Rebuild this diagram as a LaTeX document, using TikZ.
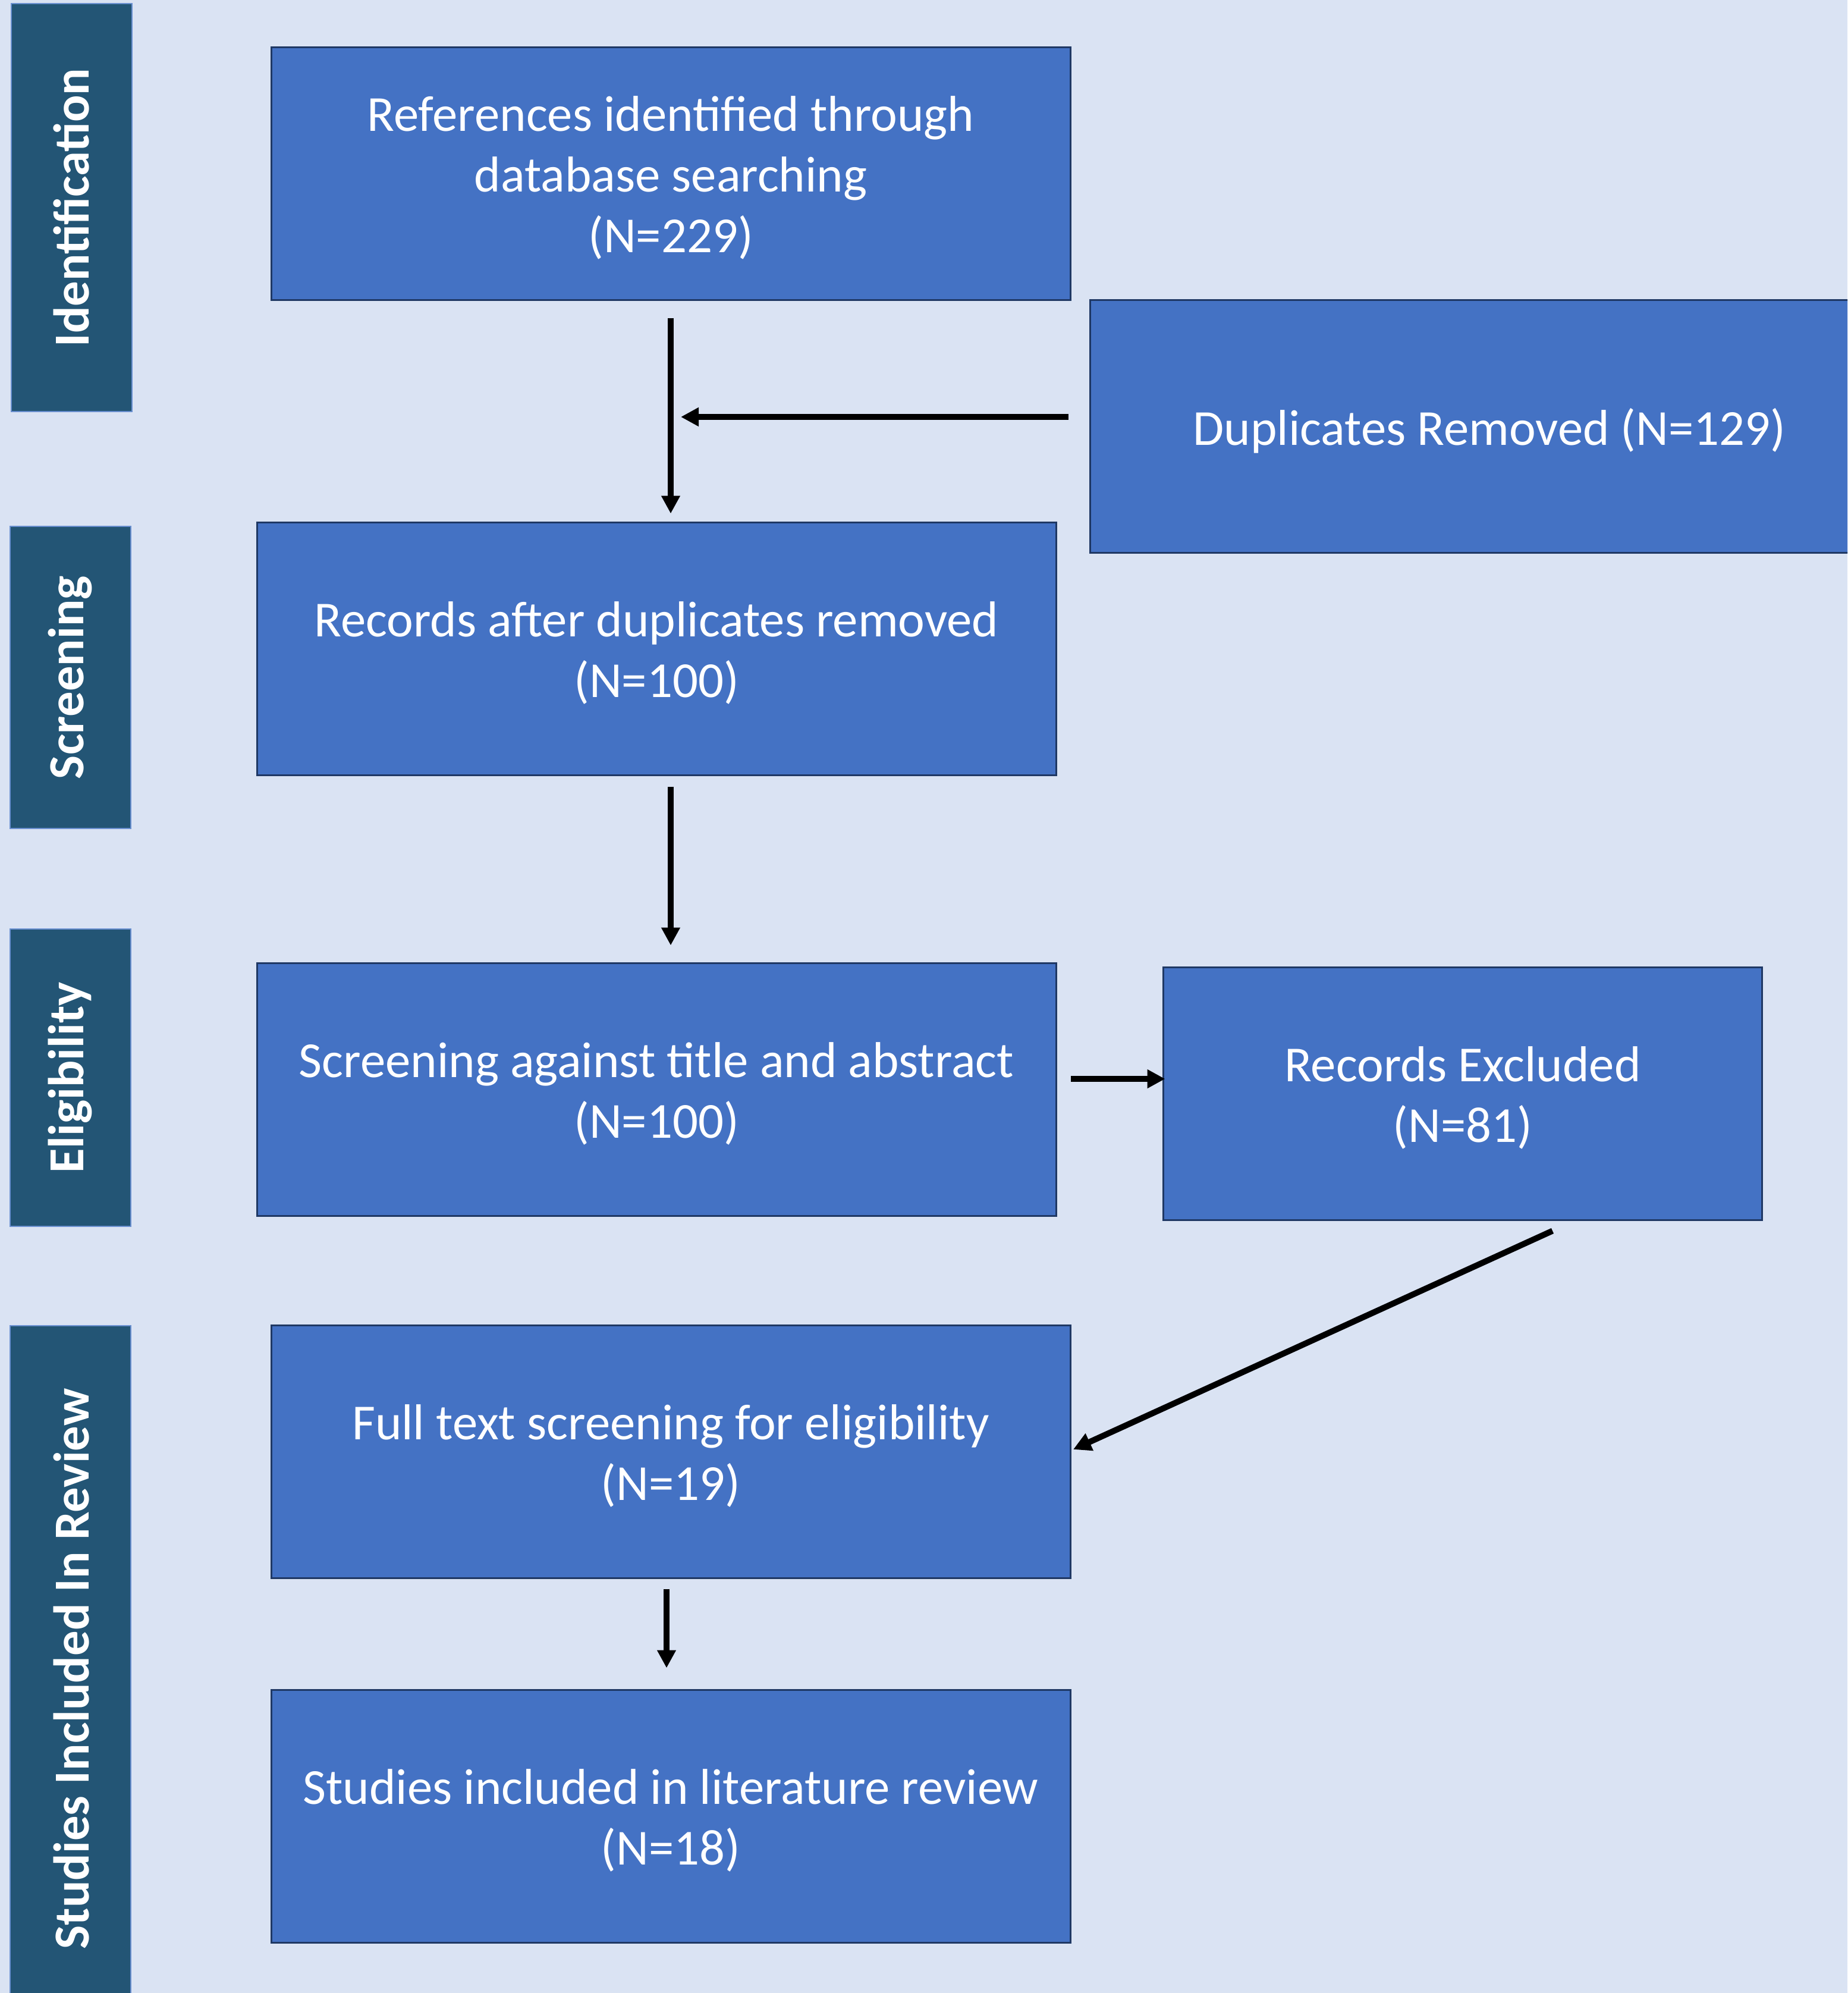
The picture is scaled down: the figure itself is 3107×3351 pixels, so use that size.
\documentclass[tikz,border=0pt]{standalone}
\usepackage{fontspec}
\setmainfont{Carlito}
\usetikzlibrary{arrows.meta}
\definecolor{bgc}{HTML}{DAE3F3}
\definecolor{boxc}{HTML}{4472C4}
\definecolor{boxline}{HTML}{1F3864}
\definecolor{sidec}{HTML}{235575}
\definecolor{sideline}{HTML}{6A90D0}
\tikzset{
  flowbox/.style={rectangle, fill=boxc, draw=boxline, line width=0.75pt,
    minimum width=336pt, minimum height=106.25pt, inner sep=0pt, outer sep=0pt},
  flowtext/.style={text=white, align=center, inner sep=0pt,
    font=\fontsize{21.2}{25.6}\selectfont},
  sidebox/.style={rectangle, fill=sidec, draw=sideline, line width=0.5pt,
    minimum width=50.75pt, inner sep=0pt, outer sep=0pt},
  sidetext/.style={rotate=90, text=white, inner sep=0pt,
    font=\fontsize{21.2}{25.6}\selectfont\bfseries},
  arr/.style={line width=2.5pt, -{Triangle[length=7.5pt,width=7.5pt]}},
}
\begin{document}
\begin{tikzpicture}[x=0.25pt, y=-0.25pt]
\useasboundingbox (0,0) rectangle (3107,3351);
\clip (0,0) rectangle (3107,3351);
\fill[bgc] (0,0) rectangle (3107,3351);

% side bars
\node[sidebox, minimum height=171.5pt] (s1) at (120,349) {};
\node[sidetext] (t1) at (s1) {Identification};
\node[sidebox, minimum height=127pt] (s2) at (118,1139) {};
\node[sidetext] (t2) at (s2) {Screening};
\node[sidebox, minimum height=125pt] (s3) at (118,1812) {};
\node[sidetext] (t3) at (s3) {Eligibility};
\node[sidebox, minimum height=290pt] (s4) at (118,2809) {};
\node[sidetext] (t4) at (120,2806) {Studies Included In Review};

% flow boxes
\node[flowbox] (A) at (1128,292) {};
\node[flowtext] (At) at ([shift={(0,7)}]A.center) {References identified through\\database searching\\(N=229)};
\node[flowbox] (B) at (2505,717) {};
\node[flowtext] (Bt) at ([shift={(0,7)}]B.center) {Duplicates Removed (N=129)};
\node[flowbox] (C) at (1104,1091) {};
\node[flowtext] (Ct) at ([shift={(0,7)}]C.center) {Records after duplicates removed\\(N=100)};
\node[flowbox] (D) at (1104,1832) {};
\node[flowtext] (Dt) at ([shift={(0,7)}]D.center) {Screening against title and abstract\\(N=100)};
\node[flowbox, minimum width=251.75pt] (E) at (2460,1839) {};
\node[flowtext] (Et) at ([shift={(0,7)}]E.center) {Records Excluded\\(N=81)};
\node[flowbox] (F) at (1128,2441) {};
\node[flowtext] (Ft) at ([shift={(0,7)}]F.center) {Full text screening for eligibility\\(N=19)};
\node[flowbox] (G) at (1128,3054) {};
\node[flowtext] (Gt) at ([shift={(0,7)}]G.center) {Studies included in literature review\\(N=18)};

% connectors
\coordinate (ac) at (A.south |- C.north);
\draw[arr] ([shift={(0,30)}]A.south) -- ([shift={(0,-15)}]ac);
\coordinate (m) at (1128,701);
\draw[arr] ([shift={(-36,-16)}]B.west) -- ([shift={(17,0)}]m);
\coordinate (cd1) at (A.south |- C.south);
\coordinate (cd2) at (A.south |- D.north);
\draw[arr] ([shift={(0,19)}]cd1) -- ([shift={(0,-30)}]cd2);
\draw[arr] ([shift={(25,-18)}]D.east) -- ([shift={(3,-25)}]E.west);
\draw[arr] ([shift={(151,18)}]E.south) -- ([shift={(5,-4)}]F.east);
\draw[arr] ([shift={(-7,18)}]F.south) -- ([shift={(-7,-37)}]G.north);
\end{tikzpicture}
\end{document}
